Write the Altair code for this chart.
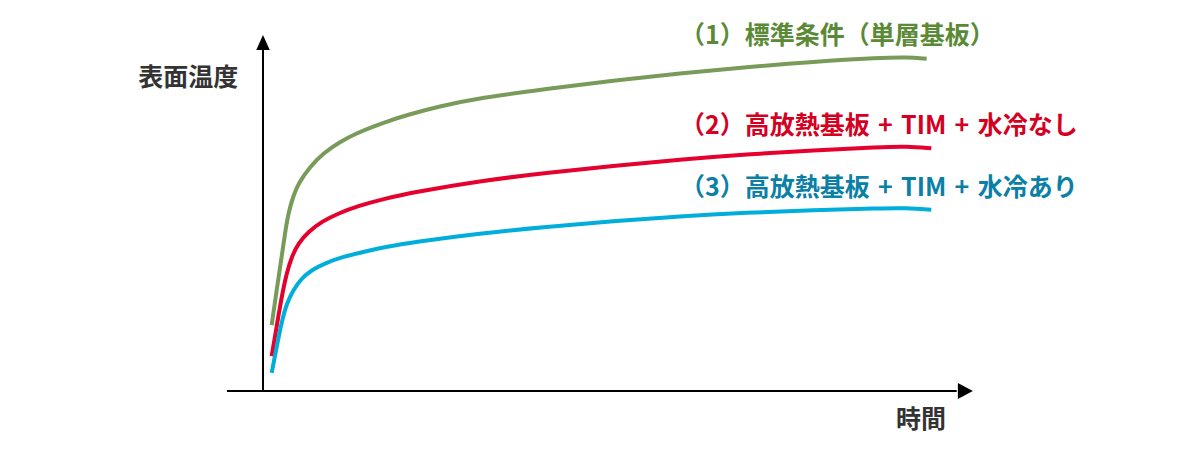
import altair as alt
import pandas as pd

# ---- data (time in arbitrary units, temperature in arbitrary units) ----
series_names = ["(1)", "(2)", "(3)"]
t_green = [1.3, 2.05, 2.8, 3.3, 3.79, 4.54, 5.29, 7.05, 9.04, 11.54, 14.05, 16.54, 19.04, 21.54, 26.54,
           32.5, 42.5, 52.5, 62.5, 72.5, 82.5, 92.5, 96.5, 99.5]
T_green = [18.5, 28.4, 37.7, 44.3, 49.9, 54.8, 58.3, 63.0, 66.8, 70.0, 72.4, 74.3, 76.0, 77.5, 80.0,
           82.3, 84.9, 87.2, 89.2, 91.0, 92.5, 93.6, 93.8, 93.3]
t_red = [1.3, 2.05, 2.8, 3.55, 4.3, 5.29, 6.79, 8.8, 11.29, 14.29, 18.19, 22.5,
         32.5, 42.5, 52.5, 62.5, 72.5, 82.5, 92.5, 96.5, 100.2]
T_red = [9.8, 18.1, 26.5, 33.1, 37.7, 41.5, 44.7, 47.6, 49.9, 52.0, 54.0, 55.8,
         59.0, 61.3, 63.2, 65.0, 66.5, 67.6, 68.5, 68.7, 68.2]
t_blue = [1.3, 2.05, 2.8, 3.55, 4.54, 5.8, 7.3, 9.3, 11.8, 15.3, 18.2, 22.5,
          32.5, 42.5, 52.5, 62.5, 72.5, 82.5, 92.5, 96.5, 100.2]
T_blue = [5.1, 12.4, 19.4, 24.6, 28.4, 31.7, 34.0, 35.9, 37.6, 39.2, 40.4, 41.8,
          44.3, 46.1, 47.7, 49.1, 50.1, 50.8, 51.3, 51.4, 50.9]

SP = "\u2004"
label_texts = [
    "（1）標準条件（単層基板）",
    f"（2）高放熱基板{SP}+{SP}TIM{SP}+{SP}水冷なし",
    f"（3）高放熱基板{SP}+{SP}TIM{SP}+{SP}水冷あり",
]
label_t = [62.5, 62.5, 62.5]
label_T = [99.6, 74.4, 57.0]

axis_title_y = "表面温度"
axis_title_x = "時間"

line_colors = ["#789b5a", "#e6002d", "#00aedb"]
text_colors = ["#5b8a36", "#d5001f", "#0b80a6"]

# ---- build tables ----
rows = []
for name, ts, Ts in zip(series_names, [t_green, t_red, t_blue], [T_green, T_red, T_blue]):
    for i, (a, b) in enumerate(zip(ts, Ts)):
        rows.append({"series": name, "order": i, "t": a, "T": b})
df = pd.DataFrame(rows)

labels = pd.DataFrame({"lab": series_names, "text": label_texts, "t": label_t, "T": label_T})

# scale geometry: page x = 263 + 6.67 t, page y = 391 - 3.56 T
W, H = 1184, 434
px_t, x0 = 6.67, 255
px_T, y0 = 3.56, 383
xdom = [-x0 / px_t, (W - x0) / px_t]
ydom = [(y0 - H) / px_T, y0 / px_T]

xs = alt.Scale(domain=xdom, nice=False, zero=False)
ys = alt.Scale(domain=ydom, nice=False, zero=False)

X = lambda f: alt.X(f, type="quantitative", scale=xs, axis=None)
Y = lambda f: alt.Y(f, type="quantitative", scale=ys, axis=None)

lines = alt.Chart(df).mark_line(strokeWidth=4, interpolate="basis", strokeCap="butt").encode(
    x=X("t"), y=Y("T"),
    stroke=alt.Stroke("series:N", scale=alt.Scale(domain=series_names, range=line_colors), legend=None),
    order="order:Q",
)

axes_df = pd.DataFrame({
    "t": [-5.4, 0.0], "t2": [104.0, 0.0], "T": [0.0, 0.0], "T2": [0.0, 95.8]
})
axes = alt.Chart(axes_df).mark_rule(color="black", strokeWidth=2).encode(
    x=X("t"), x2="t2", y=Y("T"), y2="T2"
)

arrow_y = alt.Chart(pd.DataFrame({"t": [0.0], "T": [97.9]})).mark_point(
    shape="M0,-1L0.9,1L-0.9,1Z", filled=True, color="black", size=225, opacity=1
).encode(x=X("t"), y=Y("T"))
arrow_x = alt.Chart(pd.DataFrame({"t": [105.3], "T": [0.0]})).mark_point(
    shape="M1,0L-1,-1.07L-1,1.07Z", filled=True, color="black", size=225, opacity=1
).encode(x=X("t"), y=Y("T"))

font = "Noto Sans CJK JP"
series_labels = alt.Chart(labels).mark_text(
    align="left", baseline="middle", font=font, fontSize=25, fontWeight="bold"
).encode(
    x=X("t"), y=Y("T"), text="text:N",
    fill=alt.Fill("lab:N", scale=alt.Scale(domain=series_names, range=text_colors), legend=None),
)

titles = alt.Chart(pd.DataFrame({
    "text": [axis_title_y, axis_title_x], "t": [-11.2, 98.65], "T": [87.9, -8.1]
})).mark_text(
    align="center", baseline="middle", font=font, fontSize=25, fontWeight="bold", color="#333333"
).encode(x=X("t"), y=Y("T"), text="text:N")

chart = alt.layer(axes, lines, arrow_y, arrow_x, titles, series_labels).resolve_scale(
    stroke="independent", fill="independent"
).properties(
    width=W, height=H, padding=0, background="white"
).configure_view(stroke=None)

chart.save("out.html", embed_options={"renderer": "svg", "actions": False})
